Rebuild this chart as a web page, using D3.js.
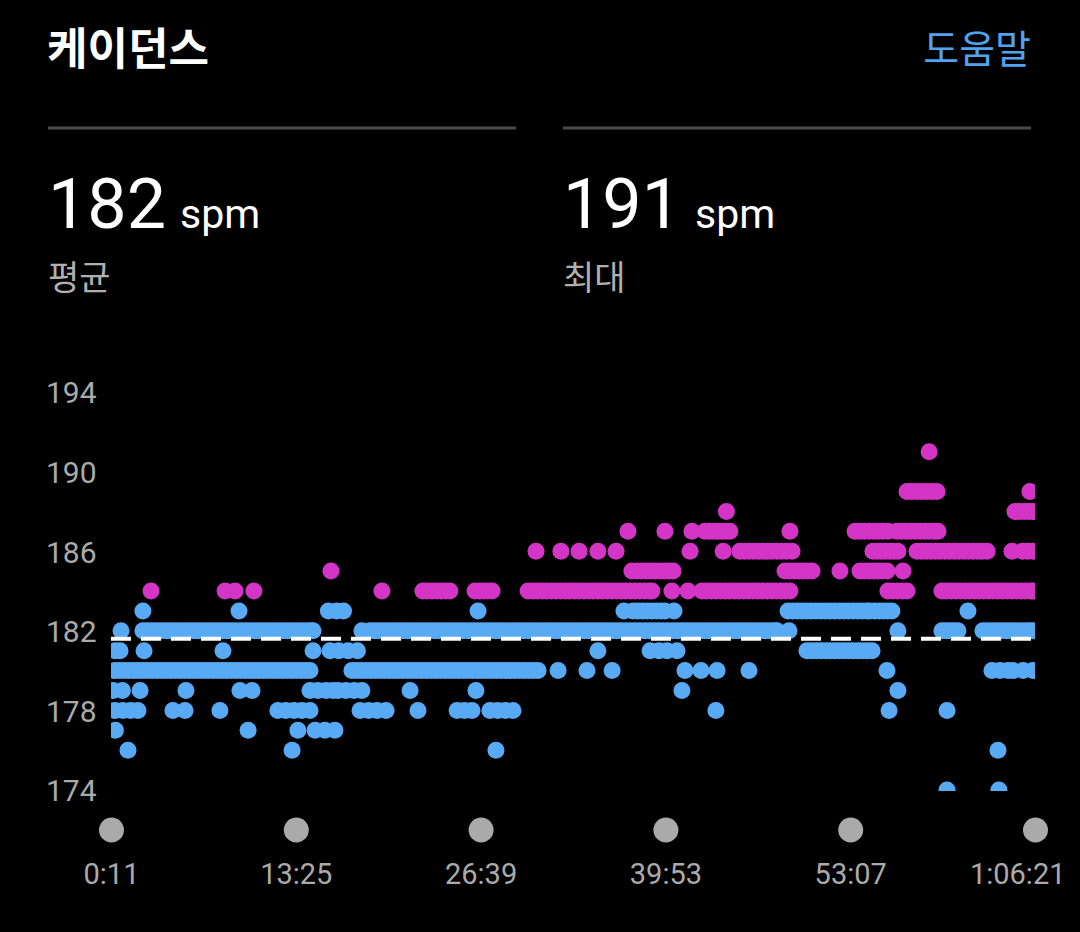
<!DOCTYPE html>
<html>
<head>
<meta charset="utf-8">
<script src="https://cdn.jsdelivr.net/npm/d3@7"></script>
<style>
  html, body { margin: 0; padding: 0; background: #000; }
  svg { display: block; }
  text { font-family: Roboto, "Noto Sans CJK KR", sans-serif; }
</style>
</head>
<body>
<svg id="chart" width="1080" height="932"></svg>
<script>
// seconds into the run at which each cadence value (spm) was recorded
const t174 = [3603, 3826]
const t176 = [84, 789, 1665, 3822]
const t177 = [30, 600, 814, 888, 930, 973]
const t178 = [28, 62, 95, 127, 277, 329, 479, 728, 762, 797, 831, 866, 1081, 1118, 1154, 1193, 1330,
              1498, 1530, 1562, 1639, 1672, 1705, 1738, 2610, 3354, 3603]
const t179 = [20, 60, 136, 333, 565, 617, 866, 900, 935, 965, 986, 1020, 1055, 1089, 1296, 1579, 2464, 3392]
const t180 = [28, 48, 68, 88, 108, 128, 148, 168, 188, 208, 228, 248, 268, 288, 308, 328, 348, 368, 388,
              408, 428, 448, 468, 488, 508, 528, 548, 568, 588, 608, 628, 648, 668, 688, 708, 728, 748, 768,
              788, 808, 828, 848, 866,
              1046, 1066, 1086, 1106, 1126, 1146, 1166, 1186, 1206, 1226, 1246, 1266, 1286, 1306, 1326, 1346,
              1366, 1386, 1406, 1426, 1446, 1466, 1486, 1506, 1526, 1546, 1566, 1586, 1606, 1626, 1646, 1666,
              1686, 1706, 1726, 1746, 1766, 1786, 1806, 1826, 1846,
              1932, 2056, 2164, 2477, 2546, 2615, 2752, 3345, 3796, 3830, 3865, 3886, 3930, 3972]
const t181 = [30, 50, 153, 492, 879, 952, 990, 1030, 1070, 2103, 2327, 2365, 2400, 2443,
              3001, 3021, 3041, 3061, 3081, 3101, 3121, 3141, 3161, 3181, 3201, 3221, 3241, 3261, 3281]
const t182 = [54, 148, 168, 188, 208, 228, 248, 268, 288, 308, 328, 348, 368, 388, 408, 428, 448, 468, 488,
              508, 528, 548, 568, 588, 608, 628, 648, 668, 688, 708, 728, 748, 768, 788, 808, 828, 848, 868,
              879, 1089,
              1124, 1144, 1164, 1184, 1204, 1224, 1244, 1264, 1284, 1304, 1324, 1344, 1364, 1384, 1404, 1424,
              1444, 1464, 1484, 1504, 1524, 1544, 1564, 1584, 1604, 1624, 1644, 1664, 1684, 1704, 1724, 1744,
              1764, 1784, 1804, 1824, 1844, 1864, 1884, 1904, 1924, 1944, 1964, 1984, 2004, 2024, 2044, 2064,
              2084, 2104, 2124, 2144, 2164, 2184, 2204, 2224, 2244, 2264, 2284,
              2305, 2325, 2345, 2365, 2383,
              2404, 2424, 2444, 2464, 2484, 2504, 2524, 2544, 2564, 2584, 2604, 2624, 2644, 2664, 2684, 2704,
              2724, 2744, 2764, 2784, 2804, 2824, 2844, 2864, 2872, 2924,
              3392, 3581, 3598, 3615, 3632, 3650,
              3757, 3777, 3797, 3817, 3837, 3857, 3877, 3897, 3917, 3937, 3957, 3972]
const t183 = [148, 561, 945, 980, 1010, 1588, 2215, 2254, 2274, 2294, 2314, 2334, 2354, 2374, 2391, 2430,
              2920, 2940, 2960, 2980, 3000, 3020, 3040, 3060, 3080, 3100, 3120, 3140, 3160, 3180, 3200, 3220,
              3240, 3260, 3272, 3293, 3312, 3330, 3348, 3366, 3693]
const t184 = [183, 501, 544, 625, 1175, 1351, 1370, 1390, 1410, 1430, 1450, 1467, 1575, 1595, 1612, 1630, 1648,
              1803, 1823, 1843, 1863, 1883, 1903, 1923, 1943, 1963, 1983, 2003, 2023, 2043, 2063, 2083, 2103,
              2123, 2143, 2163, 2183, 2203, 2223, 2243, 2263, 2283, 2303, 2323, 2335, 2421, 2490,
              2550, 2570, 2590, 2610, 2630, 2650, 2670, 2690, 2710, 2730, 2750, 2770, 2790, 2810, 2830, 2850,
              2870, 2890, 2910, 2928, 3349, 3369, 3390, 3410, 3431,
              3581, 3601, 3621, 3641, 3661, 3681, 3701, 3721, 3741, 3761, 3781, 3801, 3821, 3841, 3861, 3881,
              3901, 3921, 3941, 3961, 3972]
const t185 = [956, 2249, 2269, 2289, 2309, 2329, 2349, 2369, 2389, 2409, 2426, 2907, 2926, 2946, 2966, 2985,
              3004, 3023, 3143, 3229, 3248, 3268, 3288, 3307, 3326, 3345, 3414]
const t186 = [1837, 1944, 2022, 2103, 2181, 2499, 2641,
              2713, 2733, 2753, 2773, 2793, 2813, 2833, 2853, 2873, 2893, 2913, 2937,
              3285, 3303, 3321, 3339, 3357, 3375, 3392,
              3474, 3494, 3514, 3534, 3554, 3574, 3594, 3614, 3634, 3654, 3674, 3694, 3714, 3734, 3754, 3775,
              3882, 3927, 3950, 3972]
const t187 = [2232, 2391, 2507, 2563, 2582, 2600, 2618, 2636, 2653, 2670, 2928,
              3208, 3228, 3248, 3268, 3288, 3308, 3328, 3349,
              3388, 3408, 3428, 3448, 3468, 3488, 3508, 3528, 3548, 3564]
const t188 = [2655, 3895, 3915, 3935, 3955, 3972]
const t189 = [3431, 3452, 3474, 3495, 3517, 3538, 3560, 3959]
const t191 = [3526]

const yTicks = [174, 178, 182, 186, 190, 194]
const xTicks = [11, 805, 1599, 2393, 3187, 3981]
const xTickLabels = ["0:11", "13:25", "26:39", "39:53", "53:07", "1:06:21"]
const avgCadence = 181.6
const stats = [["182", "평균"], ["191", "최대"]]

const rows = [[174, t174], [176, t176], [177, t177], [178, t178], [179, t179], [180, t180], [181, t181],
              [182, t182], [183, t183], [184, t184], [185, t185], [186, t186], [187, t187], [188, t188],
              [189, t189], [191, t191]]
let points = []
for (let r of rows) {
    for (let t of r[1]) points.push({t: t, spm: r[0]})
}

let svg = d3.select("#chart")
svg.append("rect").attr("width", 1080).attr("height", 932).attr("fill", "#000")

// header
svg.append("text").attr("x", 47).attr("y", 65).attr("fill", "#fff")
    .attr("font-size", 44).attr("font-weight", "bold").text("케이던스")
svg.append("text").attr("x", 1031).attr("y", 63).attr("fill", "#4fa3ef")
    .attr("font-size", 39).attr("text-anchor", "end").text("도움말")

stats.forEach(function(s, i) {
    let x0 = 48 + i * 515
    svg.append("line").attr("x1", x0).attr("x2", x0 + 468).attr("y1", 128).attr("y2", 128)
        .attr("stroke", "#4a4a4a").attr("stroke-width", 3)
    let big = svg.append("text").attr("x", x0).attr("y", 228).attr("fill", "#fff")
    big.append("tspan").attr("font-size", 70).text(s[0])
    big.append("tspan").attr("font-size", 41).attr("dx", 14).text("spm")
    svg.append("text").attr("x", x0).attr("y", 290).attr("fill", "#b0b0b0")
        .attr("font-size", 34).text(s[1])
})

// scales
let x = d3.scaleLinear().domain([11, 3981]).range([111, 1035])
let y = d3.scaleLinear().domain([174, 194]).range([790, 392])

// y axis labels
let yAxis = svg.append("g").attr("transform", "translate(46,0)")
    .call(d3.axisRight(y).tickValues(yTicks).tickSize(0).tickPadding(0))
yAxis.select(".domain").remove()
yAxis.selectAll("text").attr("fill", "#aaa").attr("font-size", 30)
    .attr("font-family", "Roboto, sans-serif").attr("dy", "0.36em")

svg.append("clipPath").attr("id", "plot-clip")
    .append("rect").attr("x", 111).attr("y", 380).attr("width", 924).attr("height", 411)

// dots
svg.append("g").attr("clip-path", "url(#plot-clip)")
    .selectAll("circle")
    .data(points)
    .enter()
    .append("circle")
        .attr("cx", d => x(d.t))
        .attr("cy", d => y(d.spm))
        .attr("r", 8.5)
        .attr("fill", d => d.spm >= 184 ? "#d435c6" : "#58aaf5")

// average line
svg.append("line")
    .attr("x1", x(11)).attr("x2", x(3981))
    .attr("y1", y(avgCadence)).attr("y2", y(avgCadence))
    .attr("stroke", "#fff").attr("stroke-width", 4)
    .attr("stroke-dasharray", "20,10")

// x axis: grey markers and time labels
let xAxis = svg.append("g").attr("transform", "translate(0,830)")
    .call(d3.axisBottom(x).tickValues(xTicks).tickSize(0).tickPadding(0)
        .tickFormat((d, i) => xTickLabels[i]))
xAxis.select(".domain").remove()
xAxis.selectAll(".tick").append("circle").attr("r", 12.5).attr("fill", "#aaa")
xAxis.selectAll(".tick text")
    .attr("y", 54).attr("dy", 0)
    .attr("fill", "#aaa").attr("font-size", 29)
    .attr("font-family", "Roboto, sans-serif")
    .attr("text-anchor", (d, i) => i == xTicks.length - 1 ? "end" : "middle")
    .attr("x", (d, i) => i == xTicks.length - 1 ? 30 : 0)
</script>
</body>
</html>
